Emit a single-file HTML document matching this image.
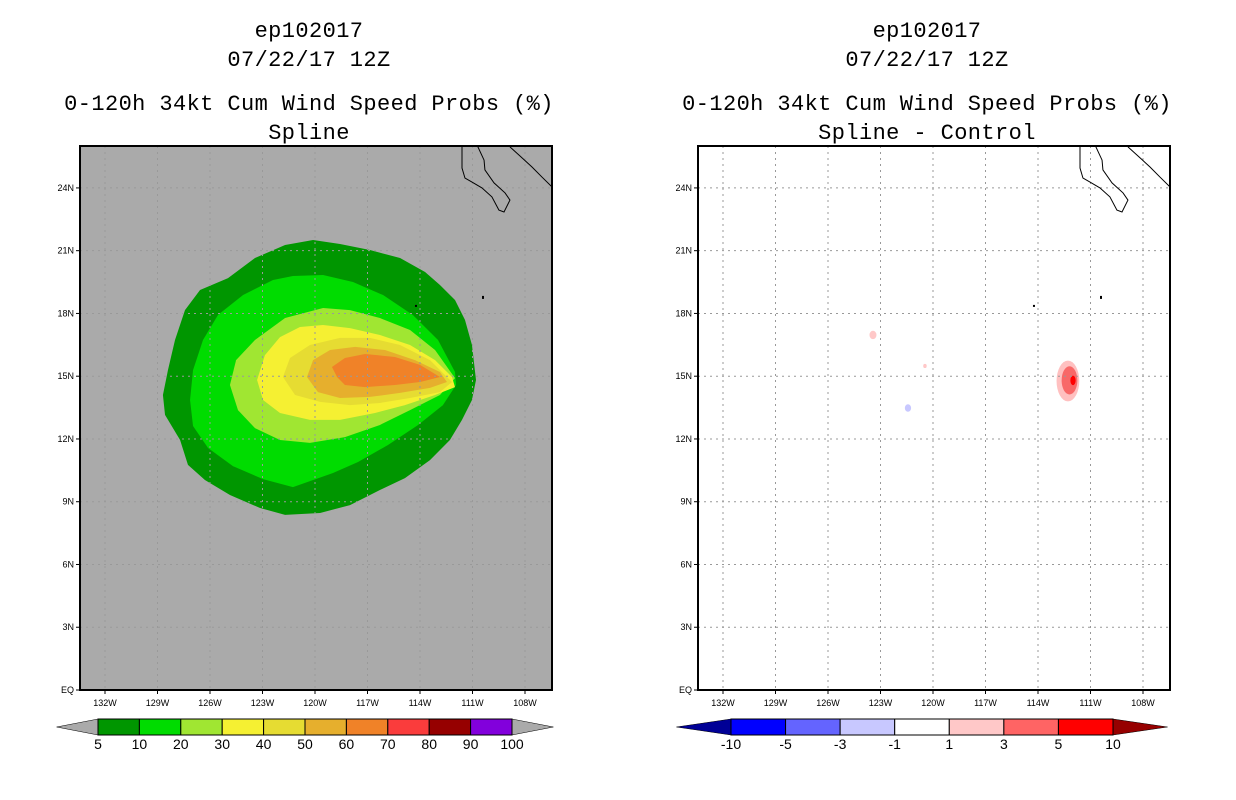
<!DOCTYPE html>
<html><head><meta charset="utf-8"><style>
html,body{margin:0;padding:0;background:#fff;}
svg{display:block;font-family:"Liberation Sans",sans-serif;}
.t{font-size:22px;text-anchor:middle;fill:#000;letter-spacing:0.4px;font-family:"Liberation Mono",monospace}
.ax{font-size:9px;fill:#000}
.cb{font-size:14px;text-anchor:middle;fill:#000}
</style></head><body>
<svg id="chart" width="1236" height="800" viewBox="0 0 1236 800">
<rect width="1236" height="800" fill="#fff"/>
<g>
<text class="t" x="309" y="37">ep102017</text>
<text class="t" x="309" y="66">07/22/17 12Z</text>
<text class="t" x="309" y="110">0-120h 34kt Cum Wind Speed Probs (%)</text>
<text class="t" x="309" y="139">Spline</text>
</g>
<g>
<text class="t" x="927" y="37">ep102017</text>
<text class="t" x="927" y="66">07/22/17 12Z</text>
<text class="t" x="927" y="110">0-120h 34kt Cum Wind Speed Probs (%)</text>
<text class="t" x="927" y="139">Spline - Control</text>
</g>
<g id="left"></g>
<g id="right"></g>
<g id="cbl"></g>
<g id="cbr"></g>
</svg>
<script>
const NS="http://www.w3.org/2000/svg";
const lonTicks=[132,129,126,123,120,117,114,111,108];
const latTicks=[0,3,6,9,12,15,18,21,24];
const latLabels=["EQ","3N","6N","9N","12N","15N","18N","21N","24N"];
const lvlColors=["#009600","#00dc00","#a0e632","#f5f032","#e6dc32","#e6af2d","#f08228"];
const c5=[[120.11,21.51],[118.57,21.32],[116.86,21.03],[115.14,20.65],[113.71,19.98],[112.86,19.36],[112.0,18.64],[111.43,17.69],[111.03,16.49],[110.8,14.82],[111.03,13.86],[111.6,12.91],[112.29,11.95],[113.43,10.99],[114.86,10.13],[116.29,9.56],[118.0,8.84],[119.71,8.46],[121.71,8.37],[123.14,8.70],[124.86,9.32],[126.29,10.04],[127.26,10.76],[127.71,11.95],[128.57,13.15],[128.69,14.10],[128.4,15.30],[128.0,16.73],[127.43,18.16],[126.57,19.12],[124.97,19.69],[123.43,20.65],[121.71,21.27]];
const c10=[[119.54,19.84],[117.83,19.50],[116.11,18.88],[114.4,17.92],[112.97,16.73],[112.0,15.20],[111.94,14.58],[112.69,13.62],[114.11,12.67],[115.83,11.71],[117.54,10.90],[118.97,10.37],[121.26,9.70],[122.97,10.08],[124.69,10.70],[126.11,11.57],[126.97,12.62],[127.14,13.86],[126.97,15.29],[126.4,16.73],[125.54,17.93],[124.11,18.88],[122.4,19.60],[121.26,19.79]];
const c20=[[119.54,18.26],[118.0,18.16],[116.29,17.78],[114.57,17.21],[113.14,16.25],[112.0,14.91],[112.86,14.10],[114.57,13.38],[116.29,12.67],[118.29,12.09],[120.29,11.81],[122.0,11.95],[123.43,12.52],[124.4,13.38],[124.86,14.58],[124.51,15.77],[123.43,16.73],[121.71,17.78]];
const c30=[[120.86,17.35],[119.54,17.45],[118.0,17.30],[116.29,16.97],[114.57,16.49],[113.14,15.77],[112.17,14.96],[112.0,14.48],[113.14,14.10],[114.86,13.62],[116.57,13.24],[118.57,12.91],[120.29,12.91],[122.0,13.24],[122.97,13.86],[123.31,14.82],[122.86,16.01],[122.0,16.87]];
const c40=[[121.83,14.96],[121.43,15.87],[120.29,16.49],[118.57,16.83],[116.86,16.83],[115.14,16.49],[113.43,15.77],[112.17,14.72],[112.86,14.24],[114.57,13.96],[116.29,13.72],[118.0,13.62],[119.71,13.77],[121.14,14.10]];
const c50=[[120.46,14.96],[120.11,15.77],[119.14,16.25],[117.71,16.40],[116.0,16.25],[114.29,15.77],[112.86,15.20],[112.46,14.72],[113.43,14.44],[115.14,14.20],[116.86,14.01],[118.57,13.96],[119.83,14.24]];
const c60=[[119.03,15.44],[118.29,15.87],[117.14,16.06],[115.43,15.92],[114.0,15.54],[112.86,14.96],[114.0,14.72],[115.43,14.58],[117.14,14.48],[118.29,14.58],[118.74,14.96]];
const leftLevels=[c5,c10,c20,c30,c40,c50,c60];
const diffLon=[123.43,120.46,121.43,112.29,112.2,112.0];
const diffLat=[16.97,15.49,13.48,14.77,14.8,14.8];
const diffSize=[0.2,0.1,0.18,0.65,0.45,0.15];
const diffCol=["#ffc8c8","#ffc8c8","#c8c8ff","#ffc0c0","#f86868","#ff0000"];
const cbLabels=["5","10","20","30","40","50","60","70","80","90","100"];
const cbColors=["#009600","#00dc00","#a0e632","#f5f032","#e6dc32","#e6af2d","#f08228","#fa3c3c","#960000","#8200dc"];
const cbrLabels=["-10","-5","-3","-1","1","3","5","10"];
const cbrColors=["#0000ff","#6464ff","#c8c8ff","#ffffff","#ffc8c8","#ff6464","#ff0000"];
const coast=[[111.6,26.05],[111.6,24.95],[111.43,24.47],[111.03,24.28],[110.46,24.0],[109.89,23.57],[109.49,22.94],[109.2,22.85],[108.86,23.42],[109.14,23.76],[109.77,24.24],[110.29,24.86],[110.34,25.33],[110.74,26.05]];
const coast2=[[108.86,25.96],[108.34,25.57],[107.6,25.0],[107.03,24.52],[106.4,24.0]];

function mk(tag,attrs,parent){const e=document.createElementNS(NS,tag);for(const k in attrs)e.setAttribute(k,attrs[k]);parent.appendChild(e);return e;}

function panel(gid,X0,bg){
  const g=document.getElementById(gid);
  const x0=X0, x1=X0+472, y0=146, y1=690;
  const xs=lon=>X0+25+(132-lon)*17.5;
  const ys=lat=>690-lat*20.92;
  const bgr=mk('rect',{x:x0,y:y0,width:472,height:544,fill:bg},g);
  
  
  const clip=mk('clipPath',{id:'clip'+gid},g);
  mk('rect',{x:x0,y:y0,width:472,height:544},clip);
  const inner=mk('g',{'clip-path':'url(#clip'+gid+')'},g);
  if(gid==='left'){
    leftLevels.forEach((poly,i)=>{
      const p=mk('polygon',{points:poly.map(q=>xs(q[0])+','+ys(q[1])).join(' '),fill:lvlColors[i]},inner);
      
      
    });
  } else {
    diffLon.forEach((lo,i)=>{
      const e=mk('ellipse',{cx:xs(lo),cy:ys(diffLat[i]),rx:diffSize[i]*17.5,ry:diffSize[i]*(i>=3?1.5:1)*20.9,fill:diffCol[i]},inner);
      
      
    });
  }
  lonTicks.forEach(l=>{const ln=mk('line',{x1:xs(l),x2:xs(l),y1:y0,y2:y1,stroke:'#999','stroke-dasharray':'2,4'},inner);
    });
  latTicks.forEach(l=>{const ln=mk('line',{x1:x0,x2:x1,y1:ys(l),y2:ys(l),stroke:'#999','stroke-dasharray':'2,4'},inner);
    });
  [coast,coast2].forEach(c=>{const pl=mk('polyline',{points:c.map(q=>xs(q[0])+','+ys(q[1])).join(' '),fill:'none',stroke:'#000','stroke-width':1},inner);
    });
  mk('rect',{x:xs(110.4)-1,y:ys(18.79)-1,width:2,height:3,fill:'#000'},inner);
  mk('rect',{x:xs(114.23)-1,y:ys(18.36)-1,width:2,height:2,fill:'#000'},inner);
  const fr=mk('rect',{x:x0,y:y0,width:472,height:544,fill:'none',stroke:'#000','stroke-width':2},g);
  
  lonTicks.forEach(l=>{mk('line',{x1:xs(l),x2:xs(l),y1:y1,y2:y1+4,stroke:'#000'},g);
    const t=mk('text',{x:xs(l),y:y1+16,'text-anchor':'middle',class:'ax'},g);t.textContent=l+'W';
    });
  latTicks.forEach((l,i)=>{mk('line',{x1:x0-4,x2:x0,y1:ys(l),y2:ys(l),stroke:'#000'},g);
    const t=mk('text',{x:x0-6,y:ys(l)+3,'text-anchor':'end',class:'ax'},g);t.textContent=latLabels[i];
    });
}
panel('left',80,'#aaaaaa');
panel('right',698,'#ffffff');

function colorbar(gid,x0,x1,labels,colors,lc,rc){
  const g=document.getElementById(gid);
  const n=colors.length, w=(x1-x0)/n, y=719, h=16;
  mk('polygon',{points:`${x0-w},${y+h/2} ${x0},${y} ${x0},${y+h}`,fill:lc,stroke:'#000','stroke-width':0.5},g);
  mk('polygon',{points:`${x1+w},${y+h/2} ${x1},${y} ${x1},${y+h}`,fill:rc,stroke:'#000','stroke-width':0.5},g);
  colors.forEach((c,i)=>{const r=mk('rect',{x:x0+i*w,y:y,width:w,height:h,fill:c,stroke:'#000','stroke-width':1},g);
    });
  labels.forEach((l,i)=>{const t=mk('text',{x:x0+i*w,y:y+h+14,class:'cb'},g);t.textContent=l;
    });
}
colorbar('cbl',98,512,cbLabels,cbColors,'#aaaaaa','#aaaaaa');
colorbar('cbr',731,1113,cbrLabels,cbrColors,'#000096','#960000');
</script>
</body></html>
